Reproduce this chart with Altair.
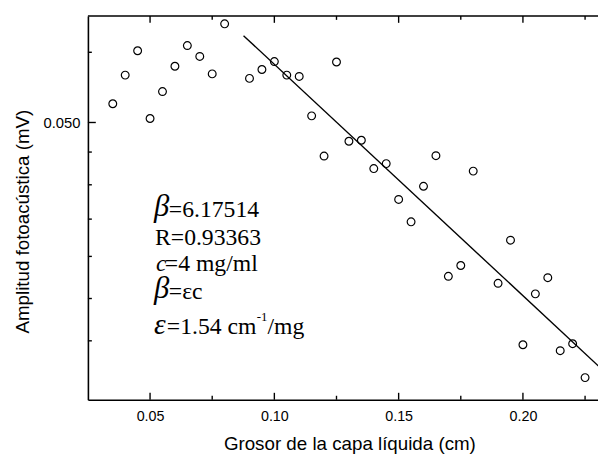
import altair as alt
import pandas as pd

# ---- data ----
thickness = [0.035, 0.040, 0.045, 0.050, 0.055, 0.060, 0.065, 0.070, 0.075, 0.080,
             0.090, 0.095, 0.100, 0.105, 0.110, 0.115, 0.120, 0.125, 0.130, 0.135,
             0.140, 0.145, 0.150, 0.155, 0.160, 0.165, 0.170, 0.175, 0.180, 0.190,
             0.195, 0.200, 0.205, 0.210, 0.215, 0.220, 0.225]
amplitude = [0.05221, 0.05578, 0.05901, 0.05046, 0.05370, 0.05693, 0.05972, 0.05824, 0.05594, 0.06279,
             0.05536, 0.05651, 0.05755, 0.05578, 0.05561, 0.05077, 0.04627, 0.05749, 0.04788, 0.04799,
             0.04495, 0.04547, 0.04186, 0.03975, 0.04315, 0.04631, 0.03505, 0.03594, 0.04469, 0.03449,
             0.03810, 0.02993, 0.03366, 0.03494, 0.02952, 0.03000, 0.02774]

fit_x = [0.0876, 0.235]
fit_y = [0.0611, 0.0278]

x_major = [0.05, 0.10, 0.15, 0.20]
x_minor = [0.075, 0.125, 0.175, 0.225]
y_major = [0.05]
y_minor = [0.0588, 0.0467, 0.0433, 0.0400, 0.0367, 0.0333, 0.0302]

x_title = "Grosor de la capa líquida (cm)"
y_title = "Amplitud fotoacústica (mV)"

ann_beta = "β"
ann_l1 = "=6.17514"
ann_l2 = "R=0.93363"
ann_c = "c"
ann_l3 = "=4 mg/ml"
ann_l4 = "=εc"
ann_eps = "ε"
ann_l5 = "=1.54 cm"
ann_sup = "-1"
ann_l5b = "/mg"

# ---- layout ----
W, H = 517, 389
SANS = "Liberation Sans"
SERIF = "Liberation Serif"

xs = alt.Scale(domain=[0.025, 0.2302], nice=False, zero=False)
ys = alt.Scale(type="log", domain=[0.02636, 0.06395], nice=False)

pts = pd.DataFrame({"x": thickness, "y": amplitude})
fit = pd.DataFrame({"x": fit_x, "y": fit_y})

x_axis = alt.Axis(values=x_major, format=".2f", ticks=False, tickSize=0, grid=False,
                  domainColor="black", domainWidth=1.6,
                  labelFont=SANS, labelFontSize=14.5, labelColor="black", labelPadding=10,
                  title=x_title, titleFont=SANS, titleFontSize=19, titleFontWeight="normal",
                  titleColor="black", titleX=265, titleY=50, titleBaseline="alphabetic")
y_axis = alt.Axis(values=y_major, format=".3f", ticks=False, tickSize=0, grid=False,
                  domainColor="black", domainWidth=1.6,
                  labelFont=SANS, labelFontSize=15, labelColor="black", labelPadding=8,
                  title=y_title, titleFont=SANS, titleFontSize=19, titleFontWeight="normal",
                  titleColor="black", titleX=-60, titleY=208, titleBaseline="alphabetic",
                  titleAngle=270)

points = alt.Chart(pts).mark_point(shape="circle", filled=False, color="black",
                                   size=62, strokeWidth=1.2, opacity=1).encode(
    x=alt.X("x:Q", scale=xs, axis=x_axis),
    y=alt.Y("y:Q", scale=ys, axis=y_axis),
)

line = alt.Chart(fit).mark_line(color="black", strokeWidth=1.4, clip=True).encode(
    x=alt.X("x:Q", scale=xs), y=alt.Y("y:Q", scale=ys))

def xticks(vals, y0, y1):
    return alt.Chart(pd.DataFrame({"x": vals})).mark_rule(color="black", strokeWidth=1.4).encode(
        x=alt.X("x:Q", scale=xs), y=alt.value(y0), y2=alt.value(y1))

def yticks(vals, length):
    return alt.Chart(pd.DataFrame({"y": vals})).mark_rule(color="black", strokeWidth=1.4).encode(
        y=alt.Y("y:Q", scale=ys), x=alt.value(0), x2=alt.value(length))

top_border = alt.Chart(pd.DataFrame({"k": [0]})).mark_rule(color="black", strokeWidth=1.6).encode(
    x=alt.value(0), x2=alt.value(W), y=alt.value(0))

def label(txt, x, y, size=24, style="normal"):
    return alt.Chart(pd.DataFrame({"t": [txt]})).mark_text(
        align="left", baseline="alphabetic", font=SERIF, fontSize=size,
        fontStyle=style, color="black").encode(
        text="t:N", x=alt.value(x), y=alt.value(y))

annotations = [
    label(ann_beta, 67, 203, 31, "italic"),
    label(ann_l1, 82, 204),
    label(ann_l2, 68, 232),
    label(ann_c, 69, 259, 24, "italic"),
    label(ann_l3, 78, 259),
    label(ann_beta, 67, 286, 31, "italic"),
    label(ann_l4, 82, 287),
    label(ann_eps, 67, 322, 30, "italic"),
    label(ann_l5, 80, 322),
    label(ann_sup, 171, 309, 13),
    label(ann_l5b, 182, 322),
]

chart = alt.layer(
    points, line,
    xticks(x_major, H, H - 7), xticks(x_minor, H, H - 4),
    xticks(x_major, 0, 7), xticks(x_minor, 0, 4),
    yticks(y_major, 8), yticks(y_minor, 4),
    top_border,
    *annotations,
).properties(
    width=W, height=H,
    autosize=alt.AutoSizeParams(type="none"),
    padding={"left": 81, "top": 5, "right": 0, "bottom": 53},
).configure_view(stroke=None)

chart.save("out.html", embed_options={"renderer": "svg", "actions": False})
